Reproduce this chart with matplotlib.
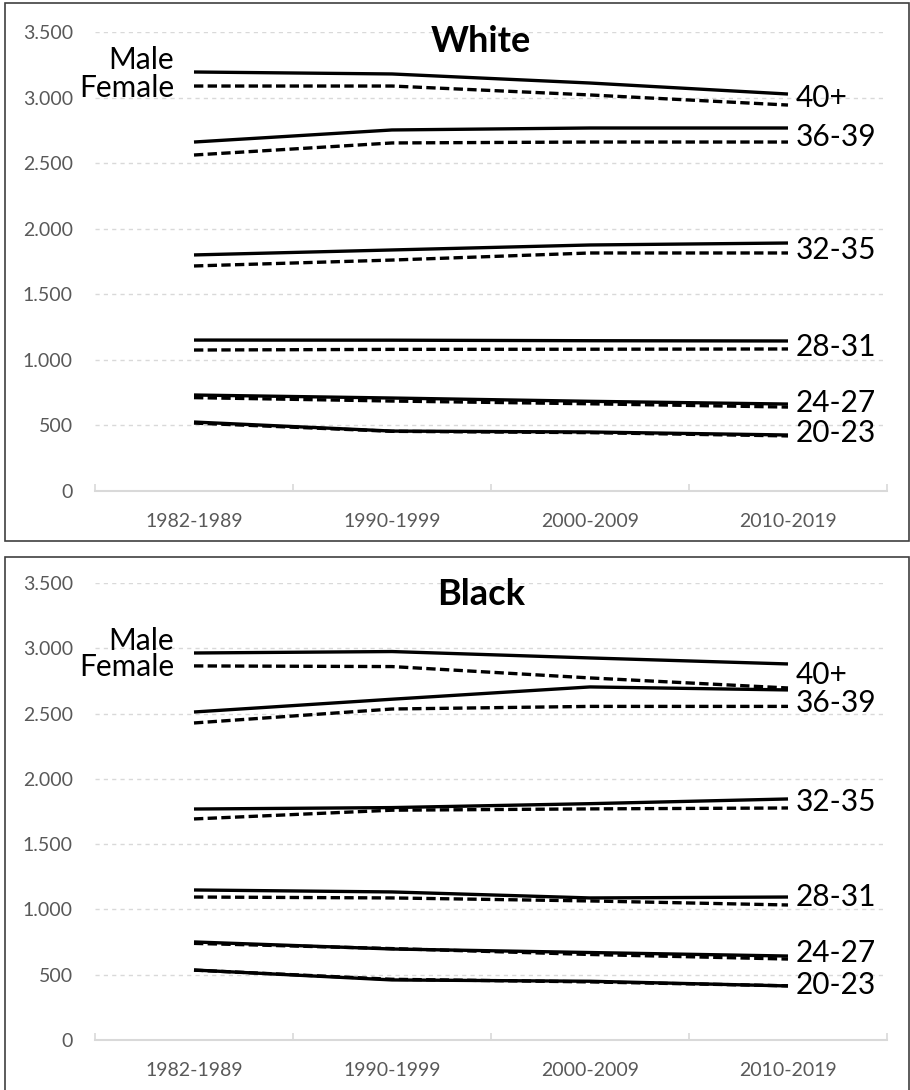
import matplotlib
matplotlib.use("Agg")
import matplotlib.pyplot as plt
from matplotlib.patches import Rectangle
from matplotlib.ticker import FuncFormatter, FixedLocator

plt.rcParams['font.family'] = ['Lato', 'DejaVu Sans']

periods = ['1982-1989', '1990-1999', '2000-2009', '2010-2019']
ages = ['40+', '36-39', '32-35', '28-31', '24-27', '20-23']

# White
white_male = {
    '40+':   [3195, 3180, 3111, 3027],
    '36-39': [2661, 2753, 2768, 2768],
    '32-35': [1800, 1838, 1876, 1891],
    '28-31': [1151, 1150, 1146, 1144],
    '24-27': [732, 709, 684, 663],
    '20-23': [526, 457, 450, 427],
}
white_female = {
    '40+':   [3088, 3088, 3020, 2943],
    '36-39': [2562, 2654, 2661, 2661],
    '32-35': [1716, 1761, 1815, 1815],
    '28-31': [1075, 1080, 1081, 1083],
    '24-27': [712, 686, 665, 640],
    '20-23': [518, 455, 445, 420],
}

# Black
black_male = {
    '40+':   [2964, 2975, 2926, 2880],
    '36-39': [2512, 2610, 2704, 2681],
    '32-35': [1769, 1780, 1810, 1846],
    '28-31': [1149, 1134, 1088, 1095],
    '24-27': [751, 697, 670, 643],
    '20-23': [536, 460, 450, 414],
}
black_female = {
    '40+':   [2865, 2860, 2773, 2696],
    '36-39': [2428, 2535, 2555, 2555],
    '32-35': [1693, 1760, 1770, 1777],
    '28-31': [1095, 1088, 1065, 1034],
    '24-27': [740, 700, 655, 620],
    '20-23': [535, 465, 445, 415],
}

# where the age labels sit at the right end
white_label_y = [2996, 2700, 1838, 1098, 671, 442]
black_label_y = [2796, 2581, 1823, 1095, 666, 421]

W, H = 910, 1090
fig = plt.figure(figsize=(W / 100, H / 100), dpi=100)

tick_col = '#595959'
grid_col = '#d9d9d9'


def thousands(v, pos):
    return '{:,.0f}'.format(v).replace(',', '.')


def panel(rect, title, title_y, male, female, label_y):
    ax = fig.add_axes(rect)
    x = list(range(len(periods)))
    for a in ages:
        ax.plot(x, male[a], color='black', lw=2.4, solid_capstyle='butt')
        ax.plot(x, female[a], color='black', lw=2.4, dashes=(2.8, 1.3))
    ax.set_xlim(-0.5, 3.5)
    ax.set_ylim(0, 3500)
    ax.set_yticks([0, 500, 1000, 1500, 2000, 2500, 3000, 3500])
    ax.yaxis.set_major_formatter(FuncFormatter(thousands))
    ax.set_xticks(x)
    ax.set_xticklabels(periods)
    ax.xaxis.set_minor_locator(FixedLocator([-0.5, 0.5, 1.5, 2.5, 3.5]))
    ax.tick_params(axis='x', which='major', length=0, pad=16,
                   labelsize=14, labelcolor=tick_col)
    ax.tick_params(axis='x', which='minor', length=5, width=1.2,
                   direction='in', color=grid_col)
    ax.tick_params(axis='y', length=0, pad=16, labelsize=14,
                   labelcolor=tick_col)
    ax.grid(axis='y', color=grid_col, lw=1, dashes=(3, 3))
    ax.set_axisbelow(True)
    for s in ['top', 'right', 'left']:
        ax.spines[s].set_visible(False)
    ax.spines['bottom'].set_color(grid_col)
    ax.spines['bottom'].set_linewidth(1.5)

    ax.text(0.487, title_y, title, transform=ax.transAxes, ha='center',
            va='center', fontsize=26, fontweight='bold')
    for a, ly in zip(ages, label_y):
        ax.text(3.04, ly, a, ha='left', va='center', fontsize=21.5)
    ax.text(-0.1, male['40+'][0] + 95, 'Male', ha='right', va='center',
            fontsize=21.5)
    ax.text(-0.1, female['40+'][0] - 12, 'Female', ha='right', va='center',
            fontsize=21.5)
    return ax


ax1 = panel([95 / W, (H - 491) / H, 792 / W, 459 / H], 'White', 0.98,
            white_male, white_female, white_label_y)
ax2 = panel([95 / W, (H - 1040) / H, 792 / W, 457 / H], 'Black', 0.975,
            black_male, black_female, black_label_y)

# panel frames
fig.patches.append(Rectangle((5 / W, (H - 541) / H), 904 / W, 538 / H,
                             transform=fig.transFigure, fill=False,
                             edgecolor='#404040', lw=1.2))
fig.patches.append(Rectangle((5 / W, (H - 1095) / H), 904 / W, 538 / H,
                             transform=fig.transFigure, fill=False,
                             edgecolor='#404040', lw=1.2))

fig.savefig('out.png', dpi=100)
